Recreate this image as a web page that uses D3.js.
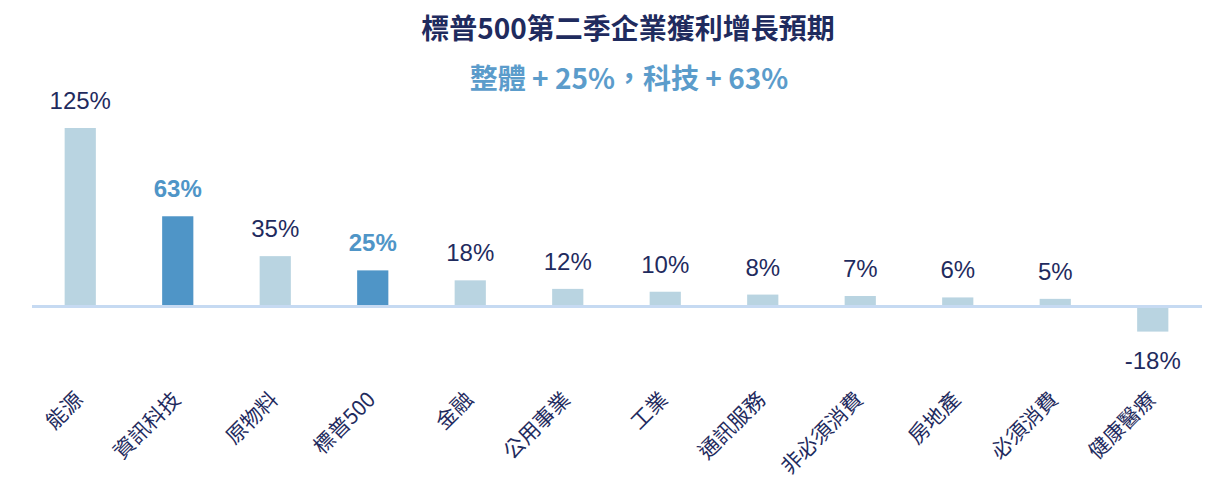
<!DOCTYPE html>
<html>
<head>
<meta charset="utf-8">
<script src="https://cdn.jsdelivr.net/npm/d3@7"></script>
<style>
  html, body { margin: 0; padding: 0; background: #fff; }
  svg { display: block; }
</style>
</head>
<body>
<div id="chart"></div>
<script>
const TITLE = '標普500第二季企業獲利增長預期'
const SUBTITLE = '整體 + 25%，科技 + 63%'

const categories = ['能源', '資訊科技', '原物料', '標普500', '金融', '公用事業', '工業', '通訊服務', '非必須消費', '房地產', '必須消費', '健康醫療']
const values = [125, 63, 35, 25, 18, 12, 10, 8, 7, 6, 5, -18]
const highlighted = ['資訊科技', '標普500']

const WIDTH = 1213
const HEIGHT = 491
const LIGHT = '#B9D4E1'
const DARK = '#4F95C7'
const NAVY = '#1F2B5E'

const data = categories.map((c, i) => ({ name: c, value: values[i] }))

const svg = d3.select('#chart')
  .append('svg')
  .attr('width', WIDTH)
  .attr('height', HEIGHT)

// Scales
const x = d3.scaleBand()
  .domain(categories)
  .range([31.5, 1201.5])
  .paddingInner(0.68)
  .paddingOuter(0.34)

const y = d3.scaleLinear()
  .domain([-18, 125])
  .range([331.6, 128])

// Title
svg.append('text')
  .attr('x', 628).attr('y', 39)
  .attr('text-anchor', 'middle')
  .style('font-family', '"Noto Sans CJK TC", sans-serif')
  .style('font-weight', 700)
  .style('font-size', '28px')
  .style('fill', NAVY)
  .text(TITLE)

svg.append('text')
  .attr('x', 629).attr('y', 89)
  .attr('text-anchor', 'middle')
  .style('font-family', '"Noto Sans CJK TC", sans-serif')
  .style('font-weight', 700)
  .style('font-size', '28px')
  .style('fill', '#5B9CCB')
  .text(SUBTITLE)

// Bars
svg.selectAll('.bar')
  .data(data)
  .enter()
  .append('rect')
  .attr('class', 'bar')
  .attr('x', d => x(d.name))
  .attr('width', x.bandwidth())
  .attr('y', d => y(Math.max(0, d.value)))
  .attr('height', d => Math.abs(y(d.value) - y(0)))
  .attr('fill', d => highlighted.includes(d.name) ? DARK : LIGHT)

// Zero axis line
svg.append('g')
  .attr('transform', `translate(0,${y(0)})`)
  .call(d3.axisBottom(x).tickSize(0).tickFormat(''))
  .call(sel => sel.select('.domain')
    .attr('stroke', '#C6DAF2')
    .attr('stroke-width', 3))

// Value labels
svg.selectAll('.val')
  .data(data)
  .enter()
  .append('text')
  .attr('class', 'val')
  .attr('x', d => x(d.name) + x.bandwidth() / 2)
  .attr('y', d => d.value >= 0 ? y(d.value) - 19 : y(d.value) + 37)
  .attr('text-anchor', 'middle')
  .style('font-family', '"Liberation Sans", Arial, sans-serif')
  .style('font-size', '24px')
  .style('font-weight', d => highlighted.includes(d.name) ? 700 : 400)
  .style('fill', d => highlighted.includes(d.name) ? DARK : NAVY)
  .text(d => `${d.value}%`)

// Category labels, rotated
svg.selectAll('.cat')
  .data(data)
  .enter()
  .append('text')
  .attr('class', 'cat')
  .attr('transform', d => `translate(${x(d.name) + x.bandwidth() / 2 + 4},401) rotate(-45)`)
  .attr('text-anchor', 'end')
  .style('font-family', '"Noto Sans CJK TC", sans-serif')
  .style('font-weight', 400)
  .style('font-size', '21px')
  .style('fill', NAVY)
  .text(d => d.name)
</script>
</body>
</html>
